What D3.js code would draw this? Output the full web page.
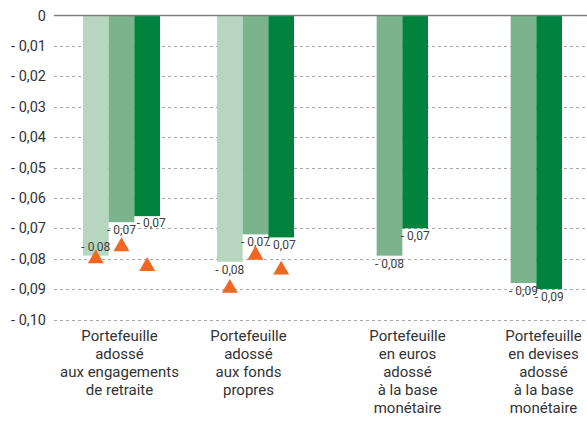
<!DOCTYPE html>
<html>
<head>
<meta charset="utf-8">
<script src="https://cdn.jsdelivr.net/npm/d3@7"></script>
<style>
  html, body { margin: 0; padding: 0; background: #fff; }
  svg { display: block; font-family: Roboto, "Noto Sans", sans-serif; }
</style>
</head>
<body>
<svg id="chart" width="587" height="421"></svg>
<script>
// ---- data ----
const categories = [
  ["Portefeuille", "adossé", "aux engagements", "de retraite"],
  ["Portefeuille", "adossé", "aux fonds", "propres"],
  ["Portefeuille", "en euros", "adossé", "à la base", "monétaire"],
  ["Portefeuille", "en devises", "adossé", "à la base", "monétaire"]
];
const seriesLight  = [-0.079, -0.081, null, null];
const seriesMedium = [-0.068, -0.072, -0.079, -0.088];
const seriesDark   = [-0.066, -0.073, -0.070, -0.090];
const markerLight  = [-0.080, -0.0897, null, null];
const markerMedium = [-0.076, -0.0788, null, null];
const markerDark   = [-0.0825, -0.0837, null, null];
const yTicks = [0, -0.01, -0.02, -0.03, -0.04, -0.05, -0.06, -0.07, -0.08, -0.09, -0.10];

// ---- build ----
const seriesNames = ["light", "medium", "dark"];
const seriesValues = [seriesLight, seriesMedium, seriesDark];
const markerValues = [markerLight, markerMedium, markerDark];
const colors = { light: "#b6d6c0", medium: "#7bb38d", dark: "#00833f" };

const svg = d3.select("#chart");
const idx = categories.map((c, i) => i);

const x0 = d3.scaleBand().domain(idx).range([54.5, 590.5])
  .paddingInner(0.425).paddingOuter(0.2125);
const x1 = d3.scaleBand().domain(seriesNames).range([0, x0.bandwidth()]).padding(0);
const y = d3.scaleLinear().domain([0, -0.10]).range([15.5, 319.5]);

const fmt = v => v === 0 ? "0" : "- " + Math.abs(v).toFixed(2).replace(".", ",");

// gridlines
const grid = svg.append("g");
grid.selectAll("line").data(yTicks.filter(t => t !== 0)).join("line")
  .attr("x1", 54).attr("x2", 587)
  .attr("y1", d => Math.round(y(d)) + 0.5).attr("y2", d => Math.round(y(d)) + 0.5)
  .attr("stroke", "#a6a6a6").attr("stroke-width", 1).attr("stroke-dasharray", "3,3");

// y axis labels
const yAxis = d3.axisLeft(y).tickValues(yTicks).tickFormat(fmt).tickSize(0).tickPadding(0);
const yg = svg.append("g").attr("transform", "translate(46,0)").call(yAxis);
yg.select(".domain").remove();
yg.selectAll("text").attr("font-size", 14.5).attr("fill", "#333").attr("font-family", "Roboto, sans-serif");

// bars
const rows = [];
idx.forEach(i => seriesNames.forEach((s, k) => {
  const v = seriesValues[k][i];
  if (v !== null) rows.push({ i, s, k, v });
}));
svg.append("g").selectAll("rect").data(rows).join("rect")
  .attr("x", d => x0(d.i) + x1(d.s))
  .attr("y", y(0))
  .attr("width", x1.bandwidth())
  .attr("height", d => y(d.v) - y(0))
  .attr("fill", d => colors[d.s]);

// zero line
svg.append("line").attr("x1", 54).attr("x2", 587)
  .attr("y1", y(0)).attr("y2", y(0))
  .attr("stroke", "#7f7f7f").attr("stroke-width", 1.6);

// data labels
const labelNudge = { "0-0": [0, -17], "0-2": [4, -1] };
svg.append("g").selectAll("text").data(rows).join("text")
  .attr("x", d => x0(d.i) + x1(d.s) + x1.bandwidth() / 2 + (labelNudge[d.i + "-" + d.k] || [0, 0])[0])
  .attr("y", d => y(d.v) + 12 + (labelNudge[d.i + "-" + d.k] || [0, 0])[1])
  .attr("text-anchor", "middle")
  .attr("font-size", 12).attr("fill", "#404040")
  .text(d => fmt(d.v));

// markers
const mrows = [];
idx.forEach(i => seriesNames.forEach((s, k) => {
  const v = markerValues[k][i];
  if (v !== null) mrows.push({ i, s, v });
}));
svg.append("g").selectAll("path").data(mrows).join("path")
  .attr("transform", d => `translate(${x0(d.i) + x1(d.s) + x1.bandwidth() / 2},${y(d.v)})`)
  .attr("d", d3.symbol().type(d3.symbolTriangle).size(110))
  .attr("fill", "#f26522");

// category labels
const labelShift = [-2, -7, 18, 20];
const cg = svg.append("g");
idx.forEach(i => {
  const t = cg.append("text")
    .attr("x", x0(i) + x0.bandwidth() / 2 + labelShift[i])
    .attr("y", 341)
    .attr("text-anchor", "middle")
    .attr("font-size", 15).attr("fill", "#333");
  categories[i].forEach((line, j) => {
    t.append("tspan").attr("x", x0(i) + x0.bandwidth() / 2 + labelShift[i])
      .attr("dy", j === 0 ? 0 : 18).text(line);
  });
});
</script>
</body>
</html>
